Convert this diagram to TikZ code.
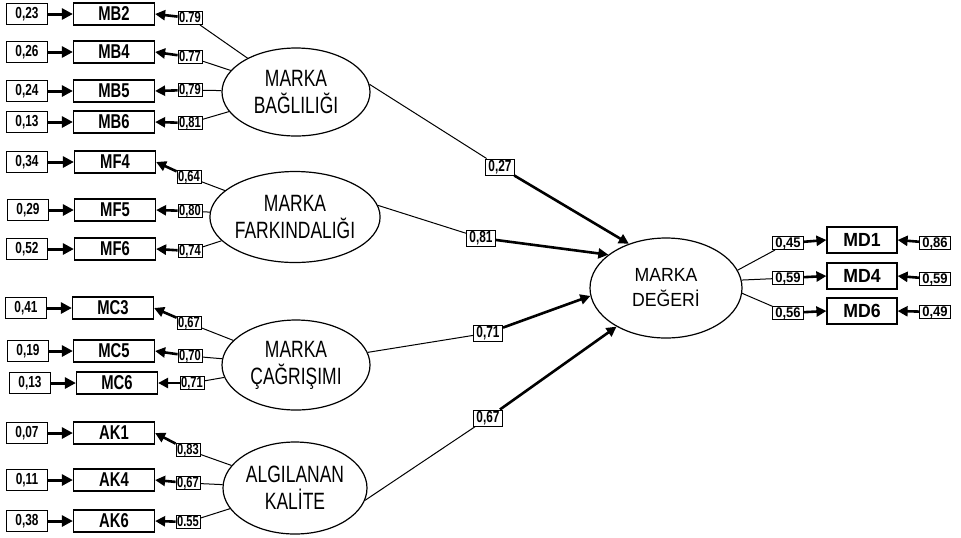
\documentclass[tikz,border=0pt]{standalone}
\usepackage{fontspec}
\setmainfont[FakeStretch=0.74]{Liberation Sans}
\newfontfamily\widefont[FakeStretch=0.93]{Liberation Sans}
\usetikzlibrary{shapes.geometric,arrows.meta}
\begin{document}
\begin{tikzpicture}[x=0.5pt,y=-0.5pt,
  obs/.style={draw,line width=0.6pt,minimum width=40.5pt,minimum height=11pt,inner sep=0pt,font=\bfseries\fontsize{10}{11}\selectfont},
  mdobs/.style={draw,line width=0.6pt,minimum width=35pt,minimum height=13pt,inner sep=0pt,font=\widefont\bfseries\fontsize{9.5}{11}\selectfont},
  err/.style={draw,line width=0.6pt,minimum width=20.5pt,minimum height=10.5pt,inner sep=0pt,font=\bfseries\fontsize{8}{9}\selectfont},
  lbl/.style={draw,line width=0.4pt,fill=white,inner xsep=0.6pt,inner ysep=0.5pt,text height=5pt,text depth=0.6pt,font=\bfseries\fontsize{7.5}{8}\selectfont},
  rlbl/.style={draw,line width=0.4pt,fill=white,inner xsep=1.3pt,inner ysep=0.5pt,text height=5pt,text depth=0.6pt,font=\widefont\bfseries\fontsize{7}{8}\selectfont},
  slbl/.style={draw,line width=0.5pt,fill=white,inner xsep=1.5pt,inner ysep=0.8pt,text height=5.6pt,text depth=0.8pt,font=\bfseries\fontsize{8}{9}\selectfont},
  lat/.style={draw,ellipse,line width=0.6pt,inner sep=0pt,align=center,font=\fontsize{11.8}{13.5}\selectfont},
  thin/.style={line width=0.5pt},
  thk/.style={line width=1.3pt,-{Triangle[length=5pt,width=5pt]}},
  ethk/.style={line width=1.5pt,-{Triangle[length=5.5pt,width=5.5pt]}},
]
\useasboundingbox (0,0) rectangle (961,537);

% ---------- latent variables ----------
\node[lat,minimum width=74pt,minimum height=44pt] (BL) at (296,92) {MARKA\\BAĞLILIĞI};
\node[lat,minimum width=72pt,minimum height=45.5pt] (FK) at (295,217) {MARKA\\FARKINDALIĞI};
\node[lat,minimum width=74pt,minimum height=45pt] (CG) at (296,365) {MARKA\\ÇAĞRIŞIMI};
\node[lat,minimum width=72pt,minimum height=46pt] (AK) at (295,488) {ALGILANAN\\KALİTE};
\node[lat,minimum width=76pt,minimum height=50pt,font=\widefont\fontsize{9.5}{12.5}\selectfont] (MD) at (666,288) {MARKA\\DEĞERİ};

% ---------- observed indicators ----------
\node[obs] (MB2) at (114,14) {MB2};
\node[obs] (MB4) at (114,52) {MB4};
\node[obs] (MB5) at (114,91) {MB5};
\node[obs] (MB6) at (114,122) {MB6};
\node[obs] (MF4) at (115,162) {MF4};
\node[obs] (MF5) at (115,210) {MF5};
\node[obs] (MF6) at (115,249) {MF6};
\node[obs] (MC3) at (113,308) {MC3};
\node[obs] (MC5) at (114,351) {MC5};
\node[obs] (MC6) at (117,383) {MC6};
\node[obs] (AK1) at (114,433) {AK1};
\node[obs] (AK4) at (114,480) {AK4};
\node[obs] (AK6) at (114,521) {AK6};

\node[mdobs] (MD1) at (862,240) {MD1};
\node[mdobs] (MD4) at (862,276) {MD4};
\node[mdobs] (MD6) at (862,311) {MD6};

% ---------- error terms ----------
\node[err] (eMB2) at (27,14) {0,23};
\node[err] (eMB4) at (27,52) {0,26};
\node[err] (eMB5) at (27,91) {0,24};
\node[err] (eMB6) at (27,122) {0,13};
\node[err] (eMF4) at (27,162) {0,34};
\node[err] (eMF5) at (28,210) {0,29};
\node[err] (eMF6) at (27,249) {0,52};
\node[err] (eMC3) at (26,308) {0,41};
\node[err] (eMC5) at (28,351) {0,19};
\node[err] (eMC6) at (30,383) {0,13};
\node[err] (eAK1) at (27,433) {0,07};
\node[err] (eAK4) at (27,480) {0,11};
\node[err] (eAK6) at (27,521) {0,38};

\foreach \n in {MB2,MB4,MB5,MB6,MF4,MF5,MF6,MC3,MC5,MC6,AK1,AK4,AK6}
  \draw[ethk] (e\n) -- (\n);

% ---------- loadings ----------
\node[lbl] (lMB2) at (190,18) {0.79};
\node[lbl] (lMB4) at (190,57) {0.77};
\node[lbl] (lMB5) at (190,90) {0,79};
\node[lbl] (lMB6) at (190,123) {0,81};
\node[lbl] (lMF4) at (189,177) {0,64};
\node[lbl] (lMF5) at (190,211) {0,80};
\node[lbl] (lMF6) at (190,251) {0,74};
\node[lbl] (lMC3) at (189,323) {0,67};
\node[lbl] (lMC5) at (190,356) {0,70};
\node[lbl] (lMC6) at (192,383) {0,71};
\node[lbl] (lAK1) at (188,450) {0,83};
\node[lbl] (lAK4) at (188,483) {0,67};
\node[lbl] (lAK6) at (188,522) {0.55};

\foreach \n/\f in {MB2/BL,MB4/BL,MB5/BL,MB6/BL,MF4/FK,MF5/FK,MF6/FK,MC3/CG,MC5/CG,MC6/CG,AK1/AK,AK4/AK,AK6/AK}{
  \draw[thin] (\f) -- (l\n);
  \draw[thk] (l\n) -- (\n.east);
}

% ---------- structural paths ----------
\node[slbl] (s1) at (500,167) {0,27};
\node[slbl] (s2) at (481,238) {0,81};
\node[slbl] (s3) at (488,333) {0,71};
\node[slbl] (s4) at (488,418) {0,67};
\draw[thin] (BL.6) -- (s1);  \draw[thk] (s1) -- (MD.130);
\draw[thin] (FK.8) -- (s2);  \draw[thk] (s2) -- (MD.150);
\draw[thin] (CG.10) -- (s3); \draw[thk] (s3) -- (MD.186);
\draw[thin] (AK.350) -- (s4); \draw[thk] (s4) -- (MD.218);

% ---------- MARKA DEGERI indicators ----------
\node[rlbl] (lMD1) at (788,243) {0,45};
\node[rlbl] (lMD4) at (788,278) {0,59};
\node[rlbl] (lMD6) at (788,313) {0,56};
\node[rlbl] (eMD1) at (935,243) {0,86};
\node[rlbl] (eMD4) at (935,279) {0,59};
\node[rlbl] (eMD6) at (935,312) {0,49};
\draw[thin] (MD.14) -- (lMD1);  \draw[thk] (lMD1) -- (MD1.west);
\draw[thin] (MD.6) -- (lMD4);   \draw[thk] (lMD4) -- (MD4.west);
\draw[thin] (MD.356) -- (lMD6); \draw[thk] (lMD6) -- (MD6.west);
\draw[thk] (eMD1) -- (MD1.east);
\draw[thk] (eMD4) -- (MD4.east);
\draw[thk] (eMD6) -- (MD6.east);
\end{tikzpicture}
\end{document}
